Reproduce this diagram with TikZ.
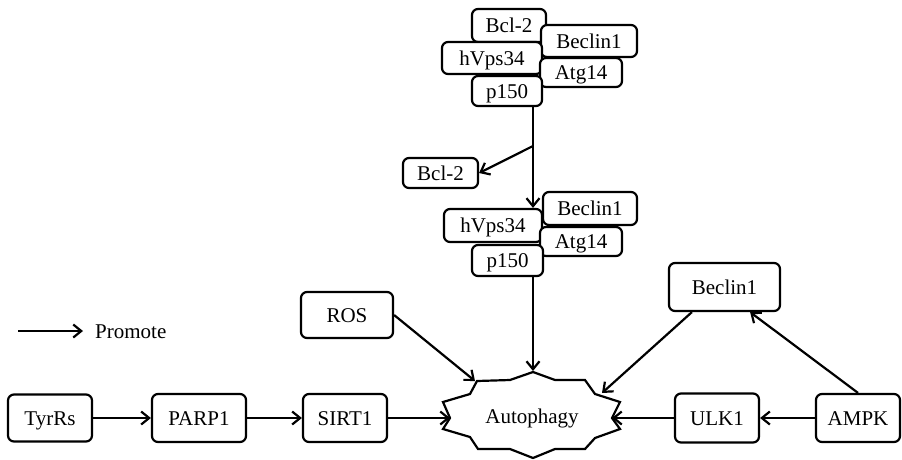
\documentclass[tikz,border=0pt]{standalone}
\usepackage{fontspec}
\setmainfont{Liberation Serif}
\usetikzlibrary{arrows.meta,calc}
\begin{document}
\begin{tikzpicture}[x=1pt,y=-1pt,
  box/.style={draw, line width=2.2pt, rounded corners=6pt, fill=white, inner sep=0pt,
    text height=14pt, text depth=0pt, font=\fontsize{21}{24}\selectfont},
  lbl/.style={inner sep=0pt, text height=14pt, text depth=0pt, font=\fontsize{21}{24}\selectfont},
  arr/.style={line width=2.2pt, -{Straight Barb[length=8pt,width=13pt,line width=2.2pt]}},
  star/.style={draw, line width=2.2pt, line join=miter, fill=white}]
\useasboundingbox (0,0) rectangle (902,459);

% ---- top complex ----
\node[box, minimum width=74pt, minimum height=33pt] (t1) at (509,25.5) {Bcl-2};
\node[box, minimum width=96pt, minimum height=32pt] (t2) at (589,41) {Beclin1};
\node[box, minimum width=100pt, minimum height=32pt] (t3) at (492,58) {hVps34};
\node[box, minimum width=82pt, minimum height=29pt] (t4) at (581,72.5) {Atg14};
\node[box, minimum width=70pt, minimum height=30pt] (t5) at (507,91) {p150};

% ---- released Bcl-2 ----
\node[box, minimum width=75pt, minimum height=30pt] (mB) at (440.5,173) {Bcl-2};

% ---- middle complex ----
\node[box, minimum width=94pt, minimum height=33pt] (m2) at (590,208.5) {Beclin1};
\node[box, minimum width=98pt, minimum height=33pt] (m3) at (493,225.5) {hVps34};
\node[box, minimum width=82pt, minimum height=29pt] (m4) at (581,241.5) {Atg14};
\node[box, minimum width=71pt, minimum height=31pt] (m5) at (507.5,260.5) {p150};

% ---- bottom nodes ----
\node[box, minimum width=92pt, minimum height=46pt] (ros) at (347,315) {ROS};
\node[box, minimum width=84pt, minimum height=47pt] (tyr) at (50,418) {TyrRs};
\node[box, minimum width=94pt, minimum height=48pt] (parp) at (199,418) {PARP1};
\node[box, minimum width=84pt, minimum height=48pt] (sirt) at (345,418) {SIRT1};
\node[box, minimum width=111pt, minimum height=48pt] (becR) at (724.5,287) {Beclin1};
\node[box, minimum width=84pt, minimum height=49pt] (ulk) at (717,418) {ULK1};
\node[box, minimum width=84pt, minimum height=48pt] (ampk) at (858,418) {AMPK};

% ---- Autophagy star ----
\draw[star] (533,372) -- (555,380) -- (585,380) -- (595,394) -- (620,402) -- (612,418)
  -- (620,429) -- (595,438) -- (585,449) -- (555,449) -- (533,458) -- (510,449)
  -- (478,449) -- (470,437) -- (443,429) -- (450,418) -- (443,402) -- (470,394)
  -- (477,381) -- (510,380) -- cycle;
\node[lbl] (auto) at (532,416) {Autophagy};
\coordinate (sTop) at (533,371);
\coordinate (sL) at (450,418);
\coordinate (sR) at (612,418);
\coordinate (sUL) at (475,381);
\coordinate (sUR) at (602,393);

% ---- legend ----
\coordinate (lg) at (18,331);
\node[lbl, anchor=west, inner xsep=12pt] (lgt) at (83,331) {Promote};
\draw[arr] (lg) -- (lgt.west);

% ---- connectors ----
\coordinate (vx) at (533,0);
\coordinate (br) at (533,146);
\draw[arr] (t5.south -| vx) -- (m3.north -| vx);
\draw[arr] (br) -- (mB.east);
\draw[arr] (m5.south -| vx) -- (sTop);
\draw[arr] (ros.east) -- (sUL);
\draw[arr] ([xshift=24pt]becR.south west) -- (sUR);
\draw[arr] (ampk.north) -- ([xshift=-31pt]becR.south east);
\draw[arr] (ampk.west) -- (ulk.east);
\draw[arr] (ulk.west) -- (sR);
\draw[arr] (sirt.east) -- (sL);
\draw[arr] (tyr.east) -- (parp.west);
\draw[arr] (parp.east) -- (sirt.west);
\end{tikzpicture}
\end{document}
